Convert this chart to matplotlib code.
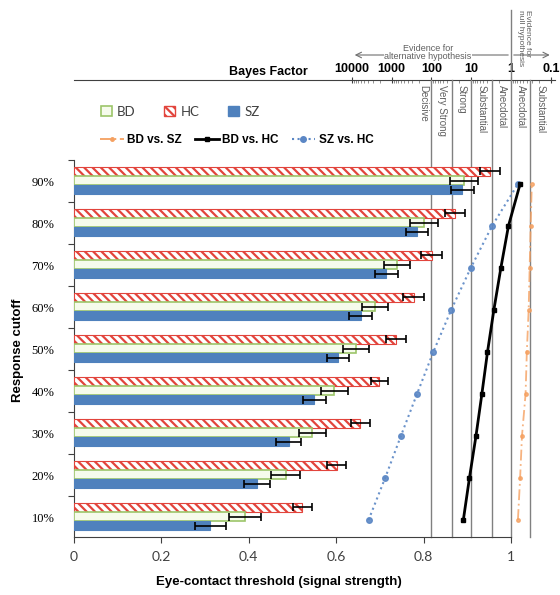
import numpy as np
import matplotlib
matplotlib.use('Agg')
import matplotlib.pyplot as plt
from matplotlib.patches import Patch
from matplotlib.lines import Line2D

cutoffs = ['10%', '20%', '30%', '40%', '50%', '60%', '70%', '80%', '90%']

# eye-contact thresholds (signal strength) per group, with error bars
bd = [0.391, 0.484, 0.545, 0.596, 0.645, 0.688, 0.740, 0.800, 0.893]
bd_err = [0.037, 0.034, 0.031, 0.030, 0.030, 0.030, 0.030, 0.032, 0.032]
hc = [0.522, 0.601, 0.655, 0.699, 0.737, 0.777, 0.819, 0.872, 0.951]
hc_err = [0.022, 0.022, 0.022, 0.020, 0.022, 0.023, 0.024, 0.022, 0.023]
sz = [0.312, 0.419, 0.491, 0.550, 0.604, 0.656, 0.715, 0.785, 0.889]
sz_err = [0.036, 0.030, 0.028, 0.027, 0.026, 0.026, 0.026, 0.026, 0.026]

# Bayes factors of the group comparisons
bf_bd_sz = [0.67, 0.59, 0.53, 0.43, 0.40, 0.36, 0.34, 0.32, 0.30]
bf_bd_hc = [15.8, 11.1, 7.6, 5.4, 3.9, 2.7, 1.8, 1.16, 0.59]
bf_sz_hc = [3822, 1462, 588, 231, 90, 32, 10.3, 3.0, 0.67]

bf_ticks = [10000, 1000, 100, 10, 1, 0.1]
bf_tick_labels = ['10000', '1000', '100', '10', '1', '0.1']
bf_minor = [k * 10.0 ** e for e in range(-1, 4) for k in range(2, 10)]
bf_bounds = [100, 30, 10, 3, 1, 1 / 3]
evidence = ['Decisive', 'Very Strong', 'Strong', 'Substantial',
            'Anecdotal', 'Anecdotal', 'Substantial']
evidence_at = [160, 55, 17.3, 5.5, 1.73, 0.577, 0.183]


def bf2x(bf):
    bf = np.clip(np.asarray(bf, dtype=float), 1e-12, None)
    return 1 - 0.091 * np.log10(bf)


def x2bf(x):
    return 10 ** ((1 - np.asarray(x, dtype=float)) / 0.091)


plt.rcParams['hatch.linewidth'] = 1.6
plt.rcParams['font.family'] = ['Liberation Sans', 'DejaVu Sans']

fig = plt.figure(figsize=(5.6, 5.95), dpi=100)
ax = fig.add_axes([74 / 560, 58 / 595, 480.7 / 560, 457 / 595])
ax.set_xlim(0, 1.1)
ax.set_ylim(-0.405, 10.476)

y = np.arange(len(cutoffs))
h = 0.22
ekw = dict(ecolor='black', elinewidth=1.2, capsize=3, capthick=1.2)
ax.barh(y + 0.30, hc, height=h, xerr=hc_err, color='white', edgecolor='#e2443c',
        hatch='\\\\\\\\', linewidth=0.8, error_kw=ekw, zorder=3)
ax.barh(y + 0.08, bd, height=h, xerr=bd_err, color='#f6fbec', edgecolor='#9cc56a',
        linewidth=1.2, error_kw=ekw, zorder=3)
ax.barh(y - 0.14, sz, height=h, xerr=sz_err, color='#4f81bd', edgecolor='#4f81bd',
        linewidth=0.8, error_kw=ekw, zorder=3)

# evidence category boundaries
trans = ax.get_xaxis_transform()
for b in bf_bounds:
    top = 1.153 if b == 1 else 1.0
    ax.axvline(bf2x(b), ymin=0, ymax=top, color='#808080', lw=1, zorder=1, clip_on=False)
for lab, b in zip(evidence, evidence_at):
    ax.text(bf2x(b), 0.989, lab, transform=trans, rotation=270, ha='center', va='top',
            fontsize=7, color='#606060')

ax.plot(bf2x(bf_bd_sz), y, color='#f5a060', ls=(0, (6, 2, 1, 2)), lw=1.3,
        marker='o', ms=2.5, alpha=0.8, zorder=4)
ax.plot(bf2x(bf_bd_hc), y, color='black', lw=2, marker='s', ms=3, zorder=5)
ax.plot(bf2x(bf_sz_hc), y, color='#5b87c5', ls=':', lw=1.5, marker='o', ms=4,
        alpha=0.9, zorder=4)

# axes styling
ax.spines['top'].set_visible(False)
ax.spines['right'].set_visible(False)
ax.spines['left'].set_bounds(-0.405, 8.58)
ax.spines['bottom'].set_bounds(0, 1.0)
for s in ['left', 'bottom']:
    ax.spines[s].set_color('#404040')

ax.set_xticks([0, 0.2, 0.4, 0.6, 0.8, 1.0])
ax.set_xticklabels(['0', '0.2', '0.4', '0.6', '0.8', '1'], family='Lato', fontsize=10,
                   color='#404040')
ax.tick_params(axis='x', direction='out', length=4, color='#404040', pad=6)
ax.set_yticks(y + 0.58)
ax.set_yticklabels([])
ax.set_yticks(y + 0.06, minor=True)
ax.set_yticklabels(cutoffs, minor=True, family='Liberation Serif', fontsize=9)
ax.tick_params(axis='y', which='major', direction='out', length=4, color='#404040')
ax.tick_params(axis='y', which='minor', length=0, pad=14)

# Bayes factor axis
sec = ax.secondary_xaxis('top', functions=(x2bf, bf2x))
sec.set_ticks(bf_ticks, labels=bf_tick_labels, fontweight='bold', fontsize=9)
sec.set_ticks(bf_minor, minor=True)
sec.tick_params(which='major', direction='inout', length=5, pad=1, color='#404040')
sec.tick_params(which='minor', direction='in', length=2.5, color='#808080')
sec.spines['top'].set_color('#404040')

ax.text(0.535, 1.0175, 'Bayes Factor', transform=trans, ha='right', va='center',
        fontsize=9, fontweight='bold')

ax.annotate('', xy=(bf2x(10000), 1.0547), xytext=(1.0, 1.0547), xycoords=trans,
            textcoords=trans, arrowprops=dict(arrowstyle='->', color='#707070', lw=0.8))
ax.text(0.81, 1.06, 'Evidence for\nalternative hypothesis', transform=trans,
        ha='center', va='center', fontsize=6.5, color='#606060', linespacing=0.95,
        bbox=dict(fc='white', ec='none', pad=0.5), zorder=6)
ax.annotate('', xy=(1.095, 1.0547), xytext=(1.0, 1.0547), xycoords=trans,
            textcoords=trans, arrowprops=dict(arrowstyle='->', color='#707070', lw=0.8))
ax.text(1.029, 1.153, 'Evidence for\nnull hypothesis', transform=trans, rotation=270,
        ha='center', va='top', fontsize=6, color='#606060', linespacing=0.95,
        multialignment='left')

fig.text(279 / 560, 1 - 582 / 595, 'Eye-contact threshold (signal strength)',
         ha='center', va='center', fontsize=9.5, fontweight='bold')
fig.text(18 / 560, 1 - 350 / 595, 'Response cutoff', rotation=90, ha='center',
         va='center', fontsize=9.5, fontweight='bold')

# legends
bar_handles = [Patch(facecolor='#f6fbec', edgecolor='#9cc56a', lw=1.2, label='BD'),
               Patch(facecolor='white', edgecolor='#e2443c', hatch='\\\\\\\\', label='HC'),
               Patch(facecolor='#4f81bd', edgecolor='#4f81bd', label='SZ')]
fig.legend(handles=bar_handles, loc='center left', bbox_to_anchor=(101 / 560, 1 - 112 / 595),
           ncol=3, frameon=False, handlelength=0.8, handleheight=0.8, handletextpad=0.4,
           columnspacing=2.2, borderpad=0, borderaxespad=0, labelcolor='#404040',
           prop=dict(family='Lato', size=9.5))
line_handles = [Line2D([], [], color='#f5a060', ls=(0, (6, 2, 1, 2)), lw=1.3, marker='o',
                       ms=2.5, label='BD vs. SZ'),
                Line2D([], [], color='black', lw=2, marker='s', ms=3, label='BD vs. HC'),
                Line2D([], [], color='#5b87c5', ls=':', lw=1.5, marker='o', ms=4,
                       label='SZ vs. HC')]
fig.legend(handles=line_handles, loc='center left', bbox_to_anchor=(100 / 560, 1 - 140 / 595),
           ncol=3, frameon=False, handlelength=2.0, handletextpad=0.3, columnspacing=1.1,
           borderpad=0, borderaxespad=0, prop=dict(size=8.5, weight='bold'))

fig.savefig('out.png', dpi=100)
